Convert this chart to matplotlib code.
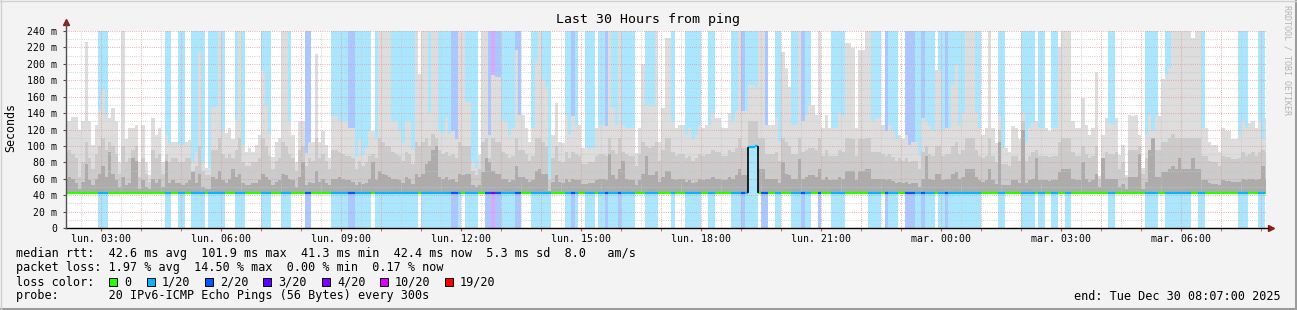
import numpy as np
import matplotlib.pyplot as plt
from matplotlib.colors import to_rgb
from matplotlib.patches import Rectangle

# ----------------------------------------
# Data
# ----------------------------------------
# x axis is in minutes after the graph start (Mon 02:07), one bin every 5 minutes
hour_labels = ['lun. 03:00', 'lun. 06:00', 'lun. 09:00', 'lun. 12:00', 'lun. 15:00',
               'lun. 18:00', 'lun. 21:00', 'mar. 00:00', 'mar. 03:00', 'mar. 06:00']
first_label_min = 53          # 03:00 is 53 minutes after 02:07
y_ticks = [0, 20, 40, 60, 80, 100, 120, 140, 160, 180, 200, 220, 240]
y_tick_labels = ['0', '20 m', '40 m', '60 m', '80 m', '100 m', '120 m', '140 m',
                 '160 m', '180 m', '200 m', '220 m', '240 m']

loss_labels = ['0', '1/20', '2/20', '3/20', '4/20', '10/20', '19/20']
loss_colors = ['#26ff00', '#00b8ff', '#0059ff', '#5e00ff', '#7e00ff', '#dd00ff', '#ff0000']

# loss class per 5 min bin (index into loss_colors)
loss_code = [int(c) for c in (
    "0000000000" "1110000000" "0000000000" "1100110011" "1101111100" "0111000001"
    "1100011100" "0022000000" "1111122111" "1101111111" "1111110111" "1111112210"
    "1111002242" "2111122000" "1111110000" "1121001110" "1121112111" "1000111100"
    "0010001111" "1001100000" "1112111102" "2001100011" "1211002000" "1111000000"
    "0111102111" "0022211211" "1011211111" "1111100000" "1100000111" "1011001100"
    "1100000000" "0001100000" "0000111100" "1111111100" "1100000000" "0011100011"
    "0")]

# median rtt in ms (flat around 42.5 except the short jump)
median_level = 42.5
median_jump = {205: 99.0, 206: 99.0, 207: 99.5}

# smoke: highest ping, upper-middle ping and lower-middle ping per bin (ms)
smoke_top = [
    130, 130, 135, 135, 120, 130, 226, 130, 101, 126, 144, 168, 138, 134, 146, 130, 81, 245, 109, 122,
    122, 126, 81, 126, 81, 65, 134, 113, 122, 81, 113, 101, 105, 105, 101, 101, 105, 107, 81, 93,
    215, 81, 73, 73, 148, 148, 245, 118, 116, 122, 109, 132, 245, 101, 93, 97, 93, 101, 113, 192,
    150, 114, 87, 105, 110, 245, 245, 130, 113, 81, 130, 130, 91, 105, 105, 212, 105, 118, 101, 85,
    136, 136, 130, 130, 130, 122, 122, 87, 109, 89, 97, 118, 118, 109, 245, 245, 245, 245, 130, 130,
    118, 103, 130, 130, 95, 245, 188, 245, 245, 140, 245, 245, 118, 116, 134, 114, 118, 109, 245, 245,
    154, 154, 81, 73, 89, 245, 245, 113, 186, 184, 184, 130, 130, 113, 122, 217, 138, 138, 122, 105,
    122, 203, 245, 182, 172, 61, 113, 152, 105, 103, 136, 113, 136, 126, 126, 97, 97, 97, 97, 122,
    126, 126, 124, 245, 146, 126, 245, 126, 122, 122, 122, 91, 122, 200, 150, 150, 150, 245, 105, 146,
    231, 231, 130, 122, 126, 126, 113, 122, 109, 113, 126, 122, 126, 126, 140, 134, 134, 122, 122, 140,
    130, 142, 245, 142, 142, 174, 174, 172, 245, 245, 126, 126, 126, 134, 105, 215, 195, 172, 126, 126,
    245, 130, 138, 150, 150, 138, 245, 122, 138, 122, 122, 122, 140, 136, 225, 225, 219, 122, 217, 217,
    245, 245, 130, 134, 134, 126, 118, 126, 118, 109, 113, 109, 113, 101, 105, 105, 89, 134, 130, 126,
    118, 192, 192, 120, 122, 122, 174, 199, 126, 140, 245, 245, 245, 140, 122, 113, 122, 245, 122, 103,
    136, 97, 97, 93, 124, 122, 109, 140, 105, 122, 128, 130, 122, 122, 122, 118, 122, 122, 220, 245,
    245, 245, 130, 122, 122, 158, 126, 113, 122, 190, 63, 113, 134, 128, 126, 134, 89, 101, 65, 138,
    136, 138, 113, 73, 113, 138, 118, 136, 136, 182, 186, 195, 245, 245, 245, 245, 245, 245, 231, 245,
    245, 122, 122, 105, 101, 101, 93, 122, 118, 118, 109, 109, 113, 130, 122, 128, 130, 122, 130, 109,
    134]
smoke_mid = [
    92, 95, 90, 85, 62, 80, 105, 85, 72, 90, 100, 110, 95, 105, 100, 90, 66, 100, 80, 85,
    95, 100, 62, 85, 66, 56, 95, 85, 90, 66, 90, 80, 85, 85, 80, 80, 85, 85, 70, 75,
    100, 70, 65, 65, 95, 95, 110, 90, 85, 90, 85, 95, 110, 80, 75, 75, 80, 80, 85, 110,
    100, 88, 72, 82, 85, 105, 100, 90, 85, 70, 95, 100, 75, 85, 82, 110, 85, 90, 82, 72,
    95, 95, 92, 90, 88, 88, 85, 72, 82, 75, 80, 88, 90, 85, 110, 105, 100, 100, 92, 90,
    88, 82, 92, 90, 78, 105, 100, 105, 110, 100, 115, 110, 95, 90, 92, 88, 90, 85, 105, 100,
    100, 100, 70, 65, 72, 105, 110, 85, 110, 105, 105, 92, 90, 85, 88, 110, 95, 95, 90, 82,
    88, 110, 110, 105, 100, 58, 85, 100, 82, 80, 92, 85, 92, 90, 88, 78, 78, 80, 80, 88,
    90, 90, 88, 110, 95, 90, 110, 92, 90, 88, 88, 75, 90, 105, 100, 98, 100, 105, 82, 95,
    110, 110, 92, 88, 90, 90, 85, 88, 82, 85, 90, 88, 90, 90, 95, 92, 92, 88, 88, 95,
    92, 98, 110, 98, 98, 130, 130, 130, 110, 110, 90, 90, 90, 92, 82, 110, 105, 100, 90, 90,
    110, 92, 95, 98, 98, 95, 110, 88, 95, 88, 88, 88, 95, 92, 110, 110, 108, 88, 108, 108,
    110, 110, 92, 92, 92, 90, 88, 90, 86, 82, 85, 82, 85, 80, 82, 82, 72, 92, 100, 90,
    88, 100, 100, 88, 90, 90, 100, 105, 90, 95, 110, 110, 110, 95, 88, 85, 88, 110, 88, 80,
    120, 78, 78, 76, 88, 88, 82, 130, 82, 88, 92, 95, 88, 88, 88, 86, 88, 88, 105, 110,
    110, 110, 92, 88, 88, 100, 90, 85, 88, 100, 60, 85, 92, 90, 90, 92, 72, 80, 62, 95,
    95, 95, 100, 66, 85, 95, 110, 95, 95, 105, 105, 110, 115, 110, 110, 110, 110, 110, 110, 110,
    110, 88, 88, 82, 80, 80, 76, 88, 86, 86, 84, 84, 85, 92, 88, 90, 92, 88, 92, 95,
    92]
smoke_dark = [
    60, 62, 60, 55, 48, 56, 78, 58, 52, 60, 66, 75, 62, 92, 66, 58, 50, 62, 52, 55,
    85, 82, 48, 58, 50, 47, 60, 55, 60, 50, 82, 55, 58, 55, 55, 52, 55, 58, 68, 55,
    66, 50, 48, 48, 62, 60, 70, 58, 55, 60, 72, 62, 66, 55, 52, 52, 55, 55, 58, 66,
    62, 58, 52, 56, 58, 66, 64, 60, 58, 50, 62, 80, 52, 56, 55, 70, 56, 60, 55, 52,
    60, 60, 62, 60, 58, 58, 56, 52, 56, 54, 55, 60, 80, 58, 70, 66, 64, 62, 60, 60,
    58, 55, 62, 60, 54, 66, 62, 66, 78, 82, 95, 100, 62, 60, 62, 58, 60, 56, 66, 64,
    66, 66, 52, 50, 52, 68, 85, 80, 70, 66, 66, 60, 60, 56, 58, 75, 62, 62, 60, 56,
    58, 70, 72, 66, 66, 45, 56, 64, 56, 55, 60, 56, 60, 58, 58, 54, 54, 55, 55, 58,
    60, 60, 58, 90, 64, 60, 72, 82, 60, 58, 58, 52, 58, 66, 88, 64, 64, 70, 56, 62,
    70, 70, 60, 58, 60, 60, 56, 58, 55, 56, 60, 58, 60, 60, 62, 60, 60, 58, 58, 62,
    60, 64, 72, 64, 64, 100, 100, 100, 72, 72, 60, 60, 60, 60, 55, 80, 66, 64, 60, 60,
    84, 60, 62, 64, 64, 62, 72, 58, 62, 58, 58, 58, 62, 60, 70, 70, 70, 58, 70, 70,
    72, 72, 60, 60, 60, 60, 58, 60, 57, 55, 56, 55, 56, 54, 55, 55, 50, 60, 88, 60,
    58, 66, 66, 58, 60, 60, 66, 68, 60, 62, 72, 72, 72, 62, 58, 56, 58, 72, 58, 54,
    105, 52, 52, 52, 58, 58, 55, 120, 55, 58, 60, 85, 58, 58, 58, 57, 58, 58, 68, 72,
    72, 72, 60, 58, 58, 80, 60, 56, 58, 66, 50, 85, 60, 60, 60, 60, 50, 54, 48, 62,
    62, 62, 90, 48, 56, 95, 110, 62, 62, 68, 68, 72, 75, 72, 85, 72, 72, 72, 85, 72,
    72, 58, 58, 55, 54, 54, 52, 58, 57, 57, 56, 56, 56, 60, 58, 60, 60, 58, 60, 75,
    60]

n_bins = len(loss_code)
assert len(smoke_top) == n_bins and len(smoke_mid) == n_bins and len(smoke_dark) == n_bins

# ----------------------------------------
# Derived arrays
# ----------------------------------------
loss_code = np.array(loss_code)
bin_left = 5.0 * np.arange(n_bins) - 2.0      # bin edges fall on :x0 / :x5 minutes
median = np.array([median_jump.get(k, median_level) for k in range(n_bins)])
smoke_base = median - 1.2


def faded(color, a=1 / 3):
    r, g, b = to_rgb(color)
    return (1 - a + a * r, 1 - a + a * g, 1 - a + a * b)


# ----------------------------------------
# Figure
# ----------------------------------------
W, H = 1297, 310
plt.rcParams['font.family'] = 'DejaVu Sans Mono'
fig = plt.figure(figsize=(W / 100, H / 100), dpi=100, facecolor='#f3f3f3')
ax = fig.add_axes([66 / W, 82 / H, 1200 / W, 197 / H])
ax.set_facecolor('white')
ax.set_xlim(0, 1800)
ax.set_ylim(0, 240)

# loss background bands
for code in range(1, len(loss_colors)):
    sel = loss_code == code
    if sel.any():
        ax.bar(bin_left[sel], 240, width=5, align='edge', color=faded(loss_colors[code]),
               linewidth=0, zorder=1)

# smoke layers, lighter towards the slow pings
ax.bar(bin_left, np.array(smoke_top) - smoke_base, bottom=smoke_base, width=5, align='edge',
       color='#dddddd', linewidth=0, zorder=2)
ax.bar(bin_left, np.array(smoke_mid) - smoke_base, bottom=smoke_base, width=5, align='edge',
       color='#cbcbcb', linewidth=0, zorder=3)
ax.bar(bin_left, np.array(smoke_dark) - smoke_base, bottom=smoke_base, width=5, align='edge',
       color='#acacac', linewidth=0, zorder=4)

# grid on top of the smoke
dots = (0, (0.7, 1.4))
for v in range(10, 241, 10):
    ax.axhline(v, color='#e49a9a' if v % 20 == 0 else '#c8c8c8', lw=0.75, ls=dots, zorder=5)
for m in np.arange(first_label_min - 30, 1800, 30):
    major = (m - first_label_min) % 60 == 0
    ax.axvline(m, color='#e49a9a' if major else '#c8c8c8', lw=0.75, ls=dots, zorder=5)

# median line coloured by loss
ax.hlines(median, bin_left, bin_left + 5, colors=[loss_colors[c] for c in loss_code],
          lw=1.6, zorder=6)
jump = np.abs(np.diff(median)) > 3
for k in np.where(jump)[0] + 1:
    ax.vlines(bin_left[k], min(median[k], median[k - 1]), max(median[k], median[k - 1]),
              color='black', lw=1.2, zorder=6)

# axes decoration in rrdtool style
for s in ax.spines.values():
    s.set_visible(False)
ax.axhline(0, xmin=0, xmax=1.002, color='black', lw=1, clip_on=False, zorder=7)
ax.axvline(0, ymin=0, ymax=1.045, color='#505050', lw=1, clip_on=False, zorder=7)
ax.plot([1.004], [0], marker='>', ms=4, color='#8b1c1c', transform=ax.transAxes, clip_on=False)
ax.plot([0], [1.047], marker='^', ms=4, color='#8b1c1c', transform=ax.transAxes, clip_on=False)

ax.set_yticks(y_ticks)
ax.set_yticklabels(y_tick_labels)
ax.tick_params(axis='y', length=2, pad=4.5, labelsize=7.1, color='#505050')
label_pos = first_label_min + 180 * np.arange(len(hour_labels))
ax.set_xticks(label_pos)
ax.set_xticklabels(hour_labels)
ax.set_xticks(np.arange(first_label_min, 1800, 60), minor=True)
ax.tick_params(axis='x', which='both', length=2, pad=2.5, labelsize=7.1, color='#e04040')

# titles and side texts
fig.text(648 / W, 1 - 19 / H, 'Last 30 Hours from ping', ha='center', va='center', fontsize=9.5)
fig.text(11 / W, 1 - 127 / H, 'Seconds', rotation=90, ha='center', va='center', fontsize=8.4)
fig.text(1287 / W, 1 - 5 / H, 'RRDTOOL / TOBI OETIKER', rotation=270, ha='center', va='top',
         fontsize=6, color='#b4b4b4')

# legend block
fs = 8.5
fig.text(16 / W, 1 - 254 / H,
         'median rtt:  42.6 ms avg  101.9 ms max  41.3 ms min  42.4 ms now  5.3 ms sd  8.0   am/s',
         va='center', fontsize=fs)
fig.text(16 / W, 1 - 268 / H, 'packet loss: 1.97 % avg  14.50 % max  0.00 % min  0.17 % now',
         va='center', fontsize=fs)
fig.text(16 / W, 1 - 282 / H, 'loss color:', va='center', fontsize=fs)
fig.text(16 / W, 1 - 296 / H, 'probe:       20 IPv6-ICMP Echo Pings (56 Bytes) every 300s',
         va='center', fontsize=fs)
fig.text(1281 / W, 1 - 296 / H, 'end: Tue Dec 30 08:07:00 2025', ha='right', va='center',
         fontsize=fs)

square_x = [109, 147, 205, 263, 322, 380, 445]
for sx, col, lab in zip(square_x, loss_colors, loss_labels):
    fig.patches.append(Rectangle((sx / W, 1 - 286 / H), 8 / W, 8 / H, transform=fig.transFigure,
                                 facecolor=col, edgecolor='black', lw=0.7))
    fig.text((sx + 15) / W, 1 - 282 / H, lab, va='center', fontsize=fs)

# 3d frame
fig.add_artist(plt.Line2D([0, 1], [1 / H, 1 / H], color='#9c9c9c', lw=2.2, transform=fig.transFigure))
fig.add_artist(plt.Line2D([1 - 1 / W, 1 - 1 / W], [0, 1], color='#9c9c9c', lw=2.2, transform=fig.transFigure))
fig.add_artist(plt.Line2D([0, 1], [1 - 0.5 / H, 1 - 0.5 / H], color='#d0d0d0', lw=1, transform=fig.transFigure))
fig.add_artist(plt.Line2D([0.5 / W, 0.5 / W], [0, 1], color='#d0d0d0', lw=1, transform=fig.transFigure))

plt.savefig('out.png', dpi=100, facecolor=fig.get_facecolor())
